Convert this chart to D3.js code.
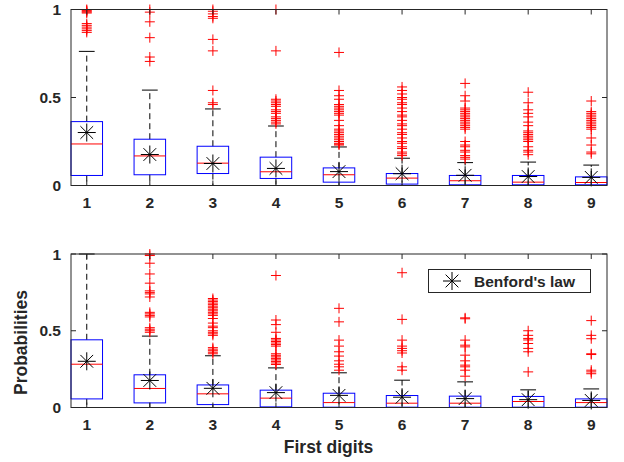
<!DOCTYPE html>
<html>
<head>
<meta charset="utf-8">
<script src="https://cdn.jsdelivr.net/npm/d3@7/dist/d3.min.js"></script>
<style>
  html, body { margin: 0; padding: 0; background: #fff; }
  svg { display: block; }
  text { font-family: "Liberation Sans", Arial, Helvetica, sans-serif; font-weight: bold; fill: #262626; }
</style>
</head>
<body>
<svg id="chart" width="624" height="462"></svg>
<script>
// ---------- data ----------
const categories = [1, 2, 3, 4, 5, 6, 7, 8, 9];
const benford = [0.301, 0.176, 0.125, 0.097, 0.079, 0.067, 0.058, 0.051, 0.046];
const yTickValues = [0, 0.5, 1];
const yTickLabels = ["0", "0.5", "1"];

// top panel
const topQ1 = [0.057, 0.061, 0.068, 0.040, 0.019, 0.008, 0.004, 0.004, 0.004];
const topMedian = [0.236, 0.168, 0.127, 0.078, 0.061, 0.042, 0.027, 0.019, 0.017];
const topQ3 = [0.363, 0.263, 0.223, 0.161, 0.100, 0.068, 0.057, 0.057, 0.049];
const topWhiskerLow = [0, 0, 0, 0, 0, 0, 0, 0, 0];
const topWhiskerHigh = [0.762, 0.542, 0.435, 0.338, 0.219, 0.155, 0.130, 0.133, 0.116];
const topOutliers = [
  [1.0, 0.995, 0.99, 0.985, 0.98, 0.92, 0.91, 0.90, 0.89, 0.88, 0.87],
  [1.0, 0.985, 0.93, 0.84, 0.73, 0.705],
  [1.0, 0.99, 0.975, 0.96, 0.95, 0.83, 0.765, 0.54, 0.47, 0.46],
  [1.0, 0.765, 0.49, 0.48, 0.47, 0.46, 0.45, 0.43, 0.42, 0.41, 0.39, 0.38, 0.37, 0.36, 0.35],
  [0.756, 0.54, 0.51, 0.49, 0.46, 0.45, 0.44, 0.43, 0.42, 0.41, 0.40, 0.37, 0.34, 0.32, 0.31, 0.30, 0.29, 0.28, 0.27, 0.26, 0.25, 0.24, 0.235, 0.23],
  [0.56, 0.54, 0.52, 0.50, 0.49, 0.47, 0.46, 0.44, 0.42, 0.40, 0.39, 0.37, 0.35, 0.34, 0.32, 0.30, 0.29, 0.27, 0.25, 0.24, 0.22, 0.21, 0.19, 0.18, 0.17],
  [0.58, 0.51, 0.48, 0.44, 0.43, 0.42, 0.41, 0.40, 0.39, 0.38, 0.37, 0.36, 0.35, 0.34, 0.33, 0.32, 0.25, 0.23, 0.22, 0.20, 0.19, 0.17, 0.16, 0.15],
  [0.53, 0.47, 0.43, 0.41, 0.39, 0.36, 0.34, 0.31, 0.30, 0.29, 0.28, 0.27, 0.26, 0.25, 0.22, 0.20, 0.19, 0.175],
  [0.48, 0.42, 0.41, 0.40, 0.39, 0.38, 0.37, 0.36, 0.35, 0.34, 0.33, 0.32, 0.27, 0.23, 0.19, 0.18]
];

// bottom panel
const botQ1 = [0.056, 0.030, 0.019, 0.004, 0.002, 0.002, 0.002, 0.002, 0.002];
const botMedian = [0.282, 0.124, 0.089, 0.061, 0.032, 0.028, 0.028, 0.039, 0.032];
const botQ3 = [0.441, 0.213, 0.147, 0.113, 0.093, 0.078, 0.074, 0.072, 0.056];
const botWhiskerLow = [0, 0, 0, 0, 0, 0, 0, 0, 0];
const botWhiskerHigh = [1.0, 0.465, 0.337, 0.258, 0.226, 0.178, 0.167, 0.115, 0.121];
const botOutliers = [
  [],
  [1.0, 0.99, 0.94, 0.87, 0.81, 0.76, 0.75, 0.74, 0.72, 0.62, 0.61, 0.60, 0.59, 0.52, 0.51, 0.50, 0.49],
  [0.71, 0.70, 0.69, 0.68, 0.67, 0.66, 0.65, 0.64, 0.63, 0.62, 0.61, 0.60, 0.58, 0.55, 0.53, 0.52, 0.50, 0.49, 0.48, 0.47, 0.39, 0.38, 0.37, 0.36, 0.35],
  [0.86, 0.57, 0.54, 0.49, 0.45, 0.44, 0.43, 0.42, 0.41, 0.40, 0.35, 0.34, 0.33, 0.32, 0.31, 0.30, 0.29, 0.28],
  [0.646, 0.558, 0.439, 0.40, 0.363, 0.335, 0.304, 0.282, 0.265, 0.243],
  [0.878, 0.574, 0.439, 0.40, 0.385, 0.37, 0.355, 0.265, 0.243],
  [0.584, 0.578, 0.439, 0.406, 0.395, 0.341, 0.304, 0.276, 0.265, 0.243, 0.204],
  [0.50, 0.47, 0.45, 0.44, 0.417, 0.385, 0.363, 0.232],
  [0.566, 0.47, 0.448, 0.35, 0.345, 0.243, 0.232, 0.22]
];

const xLabel = "First digits";
const yLabel = "Probabilities";
const legendLabel = "Benford's law";

// ---------- drawing ----------
const svg = d3.select("#chart");
const axisColor = "#262626";
const x = d3.scaleLinear().domain([0.75, 9.25]).range([71, 607]);

function panel(yRange, q1, med, q3, wl, wh, outs) {
  const y = d3.scaleLinear().domain([0, 1]).range(yRange);
  const g = svg.append("g");
  const bw = 0.5, cw = 0.25;
  const data = categories.map((c, i) => ({c, q1: q1[i], med: med[i], q3: q3[i], wl: wl[i], wh: wh[i], outs: outs[i], b: benford[i]}));

  // whiskers (dashed)
  g.selectAll(".wu").data(data).join("line")
    .attr("x1", d => x(d.c)).attr("x2", d => x(d.c))
    .attr("y1", d => y(d.q3)).attr("y2", d => y(d.wh))
    .attr("stroke", "#000").attr("stroke-width", 1).attr("stroke-dasharray", "6,4");
  g.selectAll(".wl").data(data).join("line")
    .attr("x1", d => x(d.c)).attr("x2", d => x(d.c))
    .attr("y1", d => y(d.q1)).attr("y2", d => y(d.wl))
    .attr("stroke", "#000").attr("stroke-width", 1).attr("stroke-dasharray", "6,4");
  // caps
  [["wh"], ["wl"]].forEach(([k]) => {
    g.selectAll(".cap" + k).data(data).join("line")
      .attr("x1", d => x(d.c - cw / 2)).attr("x2", d => x(d.c + cw / 2))
      .attr("y1", d => y(d[k])).attr("y2", d => y(d[k]))
      .attr("stroke", "#000").attr("stroke-width", 1);
  });
  // boxes
  g.selectAll(".box").data(data).join("rect")
    .attr("x", d => x(d.c - bw / 2)).attr("width", d => x(d.c + bw / 2) - x(d.c - bw / 2))
    .attr("y", d => y(d.q3)).attr("height", d => y(d.q1) - y(d.q3))
    .attr("fill", "none").attr("stroke", "#0000ff").attr("stroke-width", 1);
  // medians
  g.selectAll(".med").data(data).join("line")
    .attr("x1", d => x(d.c - bw / 2)).attr("x2", d => x(d.c + bw / 2))
    .attr("y1", d => y(d.med)).attr("y2", d => y(d.med))
    .attr("stroke", "#ff0000").attr("stroke-width", 1);
  // outliers (+)
  const op = data.flatMap(d => d.outs.map(v => ({c: d.c, v})));
  const ps = 5;
  g.selectAll(".out").data(op).join("path")
    .attr("d", d => {
      const cx = x(d.c), cy = y(d.v);
      return `M${cx - ps},${cy}H${cx + ps}M${cx},${cy - ps}V${cy + ps}`;
    })
    .attr("stroke", "#ff0000").attr("stroke-width", 1).attr("fill", "none");
  // Benford stars
  g.selectAll(".star").data(data).join("path")
    .attr("d", d => starPath(x(d.c), y(d.b), 9))
    .attr("stroke", "#000").attr("stroke-width", 1).attr("fill", "none");

  // axes frame
  const x0 = x.range()[0], x1 = x.range()[1];
  const yt = y.range()[1], yb = y.range()[0];
  g.append("rect").attr("x", x0).attr("y", yt).attr("width", x1 - x0).attr("height", yb - yt)
    .attr("fill", "none").attr("stroke", axisColor).attr("stroke-width", 1);
  // x ticks (inward top & bottom)
  const tl = 5;
  categories.forEach(c => {
    g.append("line").attr("x1", x(c)).attr("x2", x(c)).attr("y1", yb).attr("y2", yb - tl).attr("stroke", axisColor);
    g.append("line").attr("x1", x(c)).attr("x2", x(c)).attr("y1", yt).attr("y2", yt + tl).attr("stroke", axisColor);
  });
  g.selectAll(".xt").data(categories).join("text")
    .attr("x", d => x(d)).attr("y", yb + 22).attr("text-anchor", "middle")
    .attr("font-size", 15.5).text(d => d);
  // y ticks
  yTickValues.forEach(v => {
    g.append("line").attr("x1", x0).attr("x2", x0 + tl).attr("y1", y(v)).attr("y2", y(v)).attr("stroke", axisColor);
    g.append("line").attr("x1", x1).attr("x2", x1 - tl).attr("y1", y(v)).attr("y2", y(v)).attr("stroke", axisColor);
  });
  g.selectAll(".yt").data(yTickValues).join("text")
    .attr("x", x0 - 10).attr("y", d => y(d)).attr("dy", "0.36em").attr("text-anchor", "end")
    .attr("font-size", 15.5).text((d, i) => yTickLabels[i]);
  return y;
}

function starPath(cx, cy, r) {
  const d = r * Math.SQRT1_2;
  return `M${cx - r},${cy}H${cx + r}M${cx},${cy - r}V${cy + r}` +
         `M${cx - d},${cy - d}L${cx + d},${cy + d}M${cx - d},${cy + d}L${cx + d},${cy - d}`;
}

panel([185.5, 9.5], topQ1, topMedian, topQ3, topWhiskerLow, topWhiskerHigh, topOutliers);
panel([407.5, 254], botQ1, botMedian, botQ3, botWhiskerLow, botWhiskerHigh, botOutliers);

// axis labels
svg.append("text").attr("x", 328.5).attr("y", 453).attr("text-anchor", "middle")
  .attr("font-size", 17.5).text(xLabel);
svg.append("text").attr("transform", "translate(26.5,342.5) rotate(-90)").attr("text-anchor", "middle")
  .attr("font-size", 17.5).text(yLabel);

// legend
const lg = svg.append("g");
lg.append("rect").attr("x", 428.5).attr("y", 269.5).attr("width", 162).attr("height", 23)
  .attr("fill", "#fff").attr("stroke", axisColor).attr("stroke-width", 1);
lg.append("path").attr("d", starPath(452, 281, 9)).attr("stroke", "#000").attr("fill", "none");
lg.append("text").attr("x", 474).attr("y", 286.5).attr("font-size", 15.5).text(legendLabel);
</script>
</body>
</html>
